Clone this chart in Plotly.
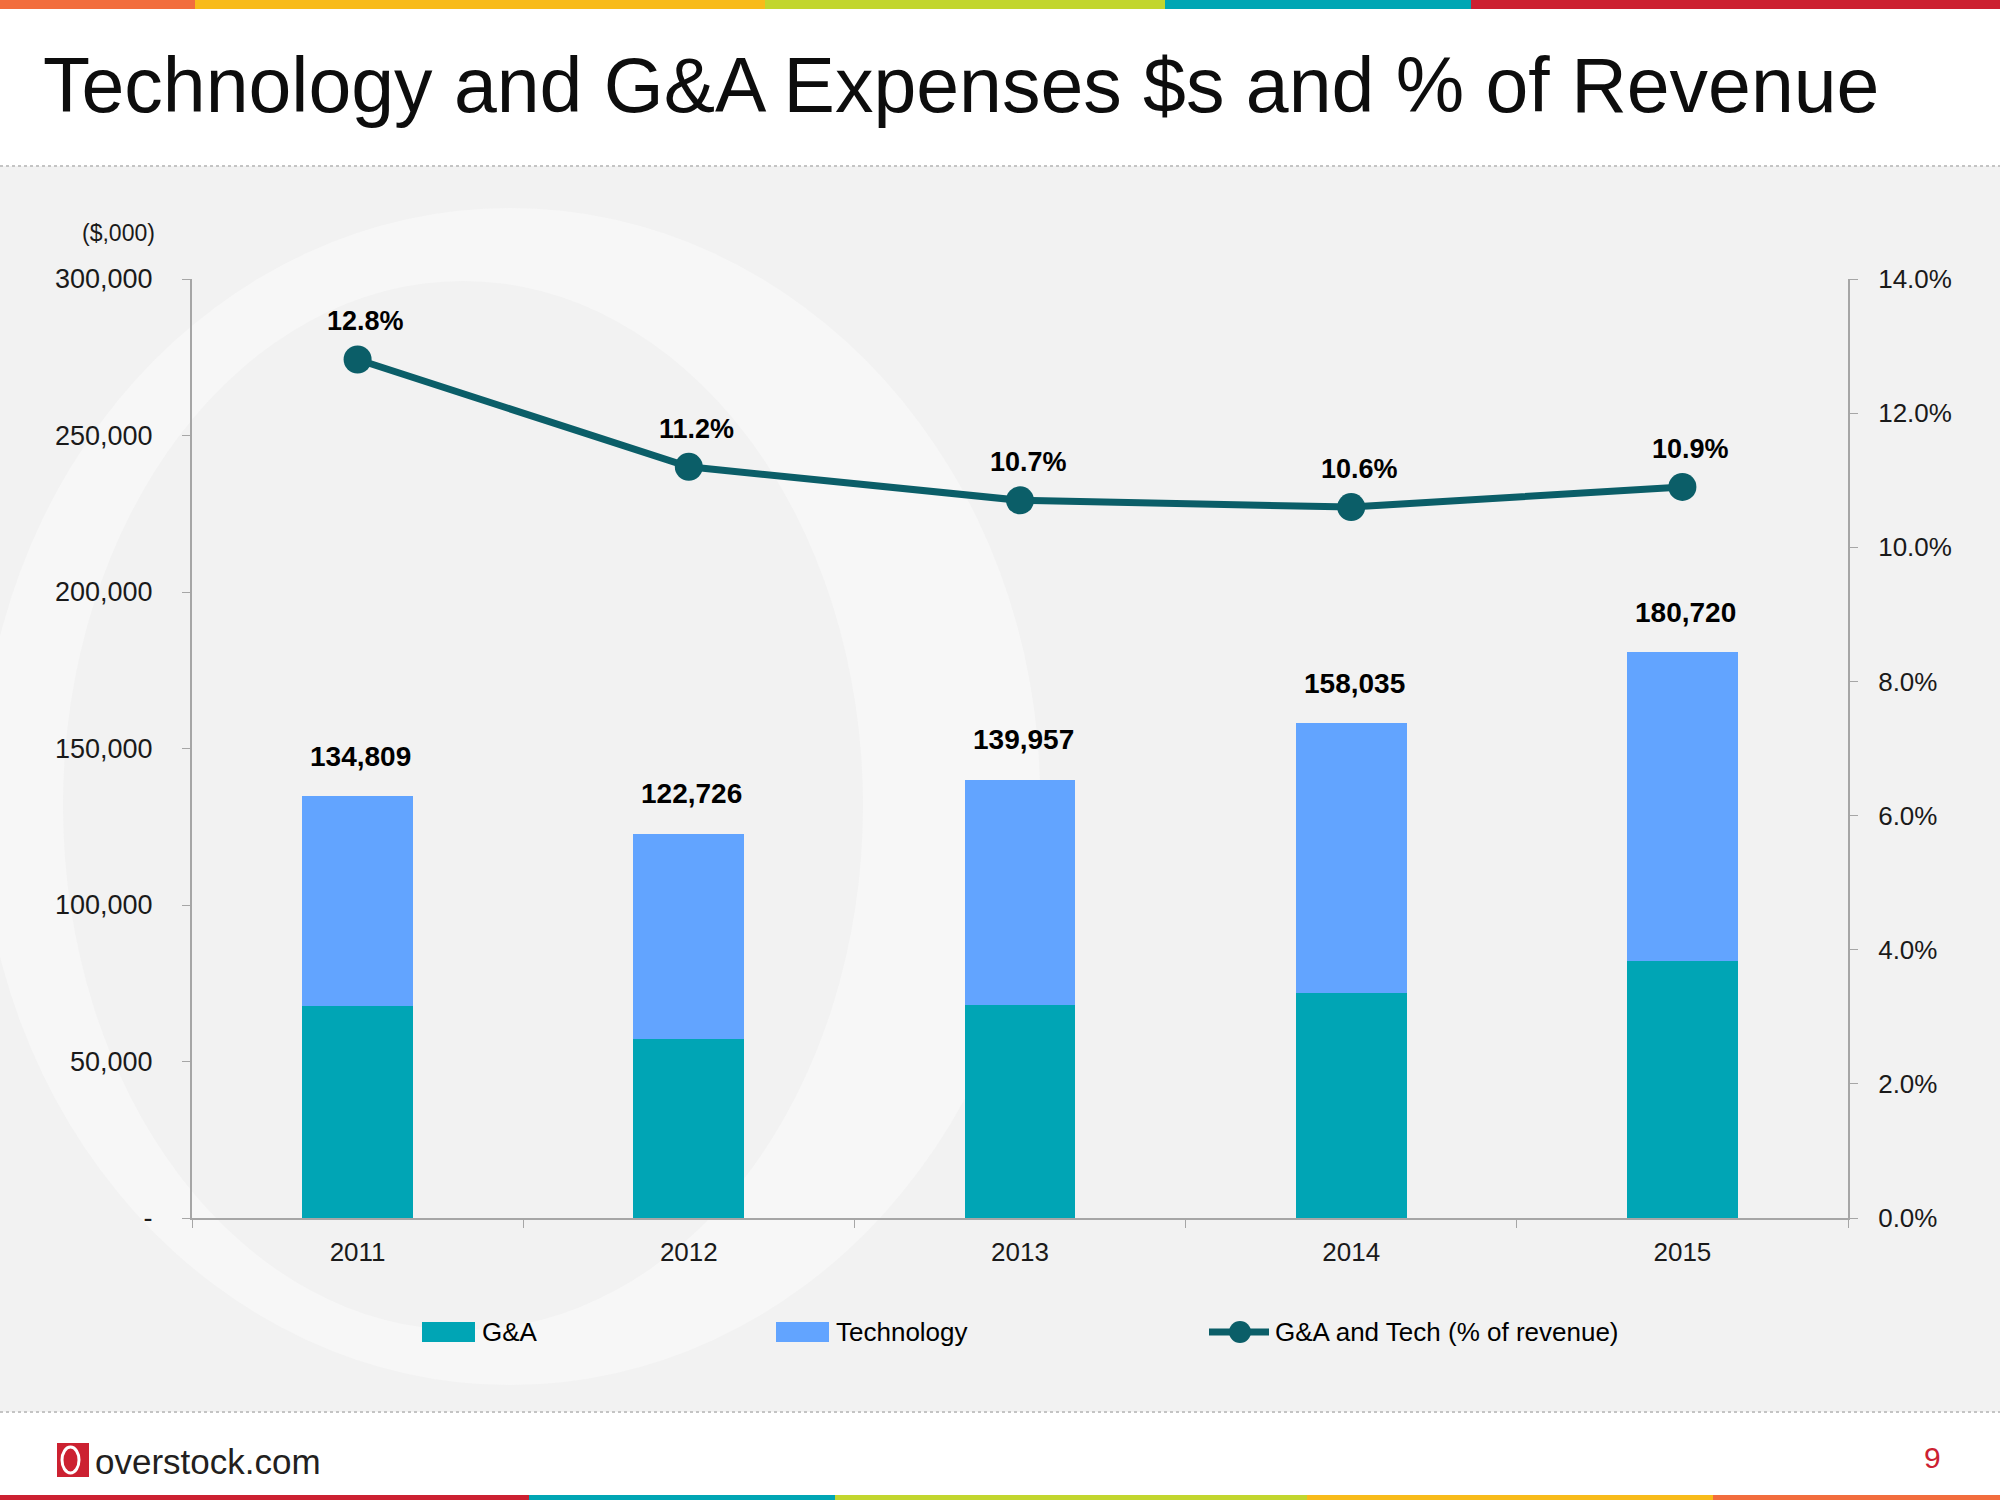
import plotly.graph_objects as go

# ---------------- data ----------------
years = ["2011", "2012", "2013", "2014", "2015"]
ga = [67800, 57300, 68100, 71800, 82100]
tech = [67009, 65426, 71857, 86235, 98620]
totals = [134809, 122726, 139957, 158035, 180720]
pct = [0.128, 0.112, 0.107, 0.106, 0.109]
y_tickvals = [0, 50000, 100000, 150000, 200000, 250000, 300000]
y_ticktext = ["-", "50,000", "100,000", "150,000", "200,000", "250,000", "300,000"]
y2_tickvals = [0.0, 0.02, 0.04, 0.06, 0.08, 0.10, 0.12, 0.14]
series_names = ["G&A", "Technology", "G&A and Tech (% of revenue)"]

# ---------------- layout helpers (pixel -> paper) ----------------
FW, FH = 2000, 1500
L, R, T, B = 192, 1848, 279, 1218


def px(x):
    return (x - L) / (R - L)


def py(y):
    return (B - y) / (B - T)


FONT = "Liberation Sans, Arial, sans-serif"
C_GA = "#00A5B5"
C_TECH = "#62A4FF"
C_LINE = "#0B5E68"
AX = "#A6A6A6"

fig = go.Figure()

fig.add_trace(go.Bar(x=years, y=ga, name=series_names[0], marker=dict(color=C_GA, line=dict(width=0)),
                     showlegend=False))
fig.add_trace(go.Bar(x=years, y=tech, name=series_names[1], marker=dict(color=C_TECH, line=dict(width=0)),
                     showlegend=False))
fig.add_trace(go.Scatter(x=years, y=pct, yaxis="y2", name=series_names[2],
                         mode="lines+markers", line=dict(color=C_LINE, width=7),
                         marker=dict(color=C_LINE, size=28), showlegend=False))

shapes = []
# gray content band
shapes.append(dict(type="rect", xref="paper", yref="paper", x0=px(0), x1=px(FW), y0=py(1412), y1=py(166),
                   fillcolor="#F2F2F2", line=dict(width=0), layer="below"))
# watermark "O"
shapes.append(dict(type="circle", xref="paper", yref="paper", x0=px(-20), x1=px(1040), y0=py(1385), y1=py(208),
                   fillcolor="#F7F7F7", line=dict(width=0), layer="below"))
shapes.append(dict(type="circle", xref="paper", yref="paper", x0=px(63), x1=px(863), y0=py(1330), y1=py(281),
                   fillcolor="#F2F2F2", line=dict(width=0), layer="below"))
# dotted separators
for yy in (166, 1412):
    shapes.append(dict(type="line", xref="paper", yref="paper", x0=px(0), x1=px(FW), y0=py(yy), y1=py(yy),
                       line=dict(color="#C4C4C4", width=2, dash="dot"), layer="below"))
# top colour bar
for x0, x1, c in [(0, 195, "#F26D3D"), (195, 765, "#F8BB1A"), (765, 1165, "#C2D62E"),
                  (1165, 1471, "#00A6B4"), (1471, 2000, "#CC2131")]:
    shapes.append(dict(type="rect", xref="paper", yref="paper", x0=px(x0), x1=px(x1), y0=py(9), y1=py(0),
                       fillcolor=c, line=dict(width=0), layer="below"))
# bottom colour bar
for x0, x1, c in [(0, 529, "#CC2131"), (529, 835, "#00A6B4"), (835, 1307, "#C2D62E"),
                  (1307, 1713, "#F8BB1A"), (1713, 2000, "#F26D3D")]:
    shapes.append(dict(type="rect", xref="paper", yref="paper", x0=px(x0), x1=px(x1), y0=py(1500), y1=py(1495),
                       fillcolor=c, line=dict(width=0), layer="below"))
# logo mark
shapes.append(dict(type="rect", xref="paper", yref="paper", x0=px(57), x1=px(89), y0=py(1477), y1=py(1443),
                   fillcolor="#CC2131", line=dict(width=0), layer="above"))
shapes.append(dict(type="circle", xref="paper", yref="paper", x0=px(62), x1=px(79), y0=py(1473), y1=py(1447),
                   fillcolor="rgba(0,0,0,0)", line=dict(color="white", width=3), layer="above"))

# legend (drawn key)
LEG_Y = 1332
shapes.append(dict(type="rect", xref="paper", yref="paper", x0=px(422), x1=px(475), y0=py(LEG_Y + 10),
                   y1=py(LEG_Y - 10), fillcolor=C_GA, line=dict(width=0), layer="above"))
shapes.append(dict(type="rect", xref="paper", yref="paper", x0=px(776), x1=px(829), y0=py(LEG_Y + 10),
                   y1=py(LEG_Y - 10), fillcolor=C_TECH, line=dict(width=0), layer="above"))
shapes.append(dict(type="line", xref="paper", yref="paper", x0=px(1209), x1=px(1269), y0=py(LEG_Y),
                   y1=py(LEG_Y), line=dict(color=C_LINE, width=7), layer="above"))
shapes.append(dict(type="circle", xref="paper", yref="paper", x0=px(1229), x1=px(1251), y0=py(LEG_Y + 11),
                   y1=py(LEG_Y - 11), fillcolor=C_LINE, line=dict(width=0), layer="above"))

annotations = []
for name, xs in zip(series_names, (480, 834, 1273)):
    annotations.append(dict(text=name, xref="paper", yref="paper", x=px(xs), y=py(LEG_Y),
                            xanchor="left", yanchor="middle", showarrow=False,
                            font=dict(family=FONT, size=26, color="#000000")))
annotations.append(dict(text="Technology and G&A Expenses $s and % of Revenue", xref="paper", yref="paper",
                        x=px(41), y=py(85), xanchor="left", yanchor="middle", showarrow=False,
                        font=dict(family=FONT, size=77, color="#0D0D0D")))
annotations.append(dict(text="($,000)", xref="paper", yref="paper", x=px(157), y=py(233),
                        xanchor="right", yanchor="middle", showarrow=False,
                        font=dict(family=FONT, size=23, color="#1A1A1A")))
annotations.append(dict(text="overstock.com", xref="paper", yref="paper", x=px(93), y=py(1461),
                        xanchor="left", yanchor="middle", showarrow=False,
                        font=dict(family=FONT, size=35, color="#231F20")))
annotations.append(dict(text="9", xref="paper", yref="paper", x=px(1932), y=py(1457),
                        xanchor="center", yanchor="middle", showarrow=False,
                        font=dict(family=FONT, size=30, color="#CC2131")))
# value labels (category index positions on the category axis)
for i, tot in enumerate(totals):
    annotations.append(dict(text=f"<b>{tot:,}</b>", x=i, y=tot, xref="x", yref="y",
                            xanchor="center", yanchor="middle", yshift=40, xshift=3, showarrow=False,
                            font=dict(family=FONT, size=28, color="#000000")))
for i, p in enumerate(pct):
    annotations.append(dict(text=f"<b>{p:.1%}</b>", x=i, y=p, xref="x", yref="y2",
                            xanchor="center", yanchor="middle", yshift=38, xshift=8, showarrow=False,
                            font=dict(family=FONT, size=27, color="#000000")))

fig.update_layout(
    width=FW, height=FH, autosize=False,
    margin=dict(l=L, r=FW - R, t=T, b=FH - B, pad=0),
    paper_bgcolor="white", plot_bgcolor="rgba(0,0,0,0)",
    font=dict(family=FONT, size=26, color="#1A1A1A"),
    barmode="stack", bargap=0.665, showlegend=False,
    xaxis=dict(type="category", categoryorder="array", categoryarray=years, range=[-0.5, len(years) - 0.5],
               showline=True, linecolor=AX, linewidth=2, ticks="outside",
               tickson="boundaries", ticklen=8, tickcolor=AX, tickwidth=1, showgrid=False, tickangle=0,
               tickfont=dict(family=FONT, size=26, color="#1A1A1A"), ticklabelstandoff=10),
    yaxis=dict(range=[0, 300000], tickvals=y_tickvals, ticktext=y_ticktext, showline=True,
               linecolor=AX, linewidth=2, ticks="outside", ticklen=8, tickcolor=AX, showgrid=False,
               zeroline=False, tickfont=dict(family=FONT, size=27, color="#1A1A1A"), ticklabelstandoff=24),
    yaxis2=dict(range=[0, 0.14], tickvals=y2_tickvals, tickformat=".1%", overlaying="y", side="right",
                showline=True, linecolor=AX, linewidth=2, ticks="outside", ticklen=8, tickcolor=AX,
                showgrid=False, zeroline=False, tickfont=dict(family=FONT, size=26, color="#1A1A1A"),
                ticklabelstandoff=15),
    shapes=shapes,
    annotations=annotations,
)

fig.write_html("out.html", config={"displayModeBar": False},
               post_script="document.body.style.margin='0px';")
